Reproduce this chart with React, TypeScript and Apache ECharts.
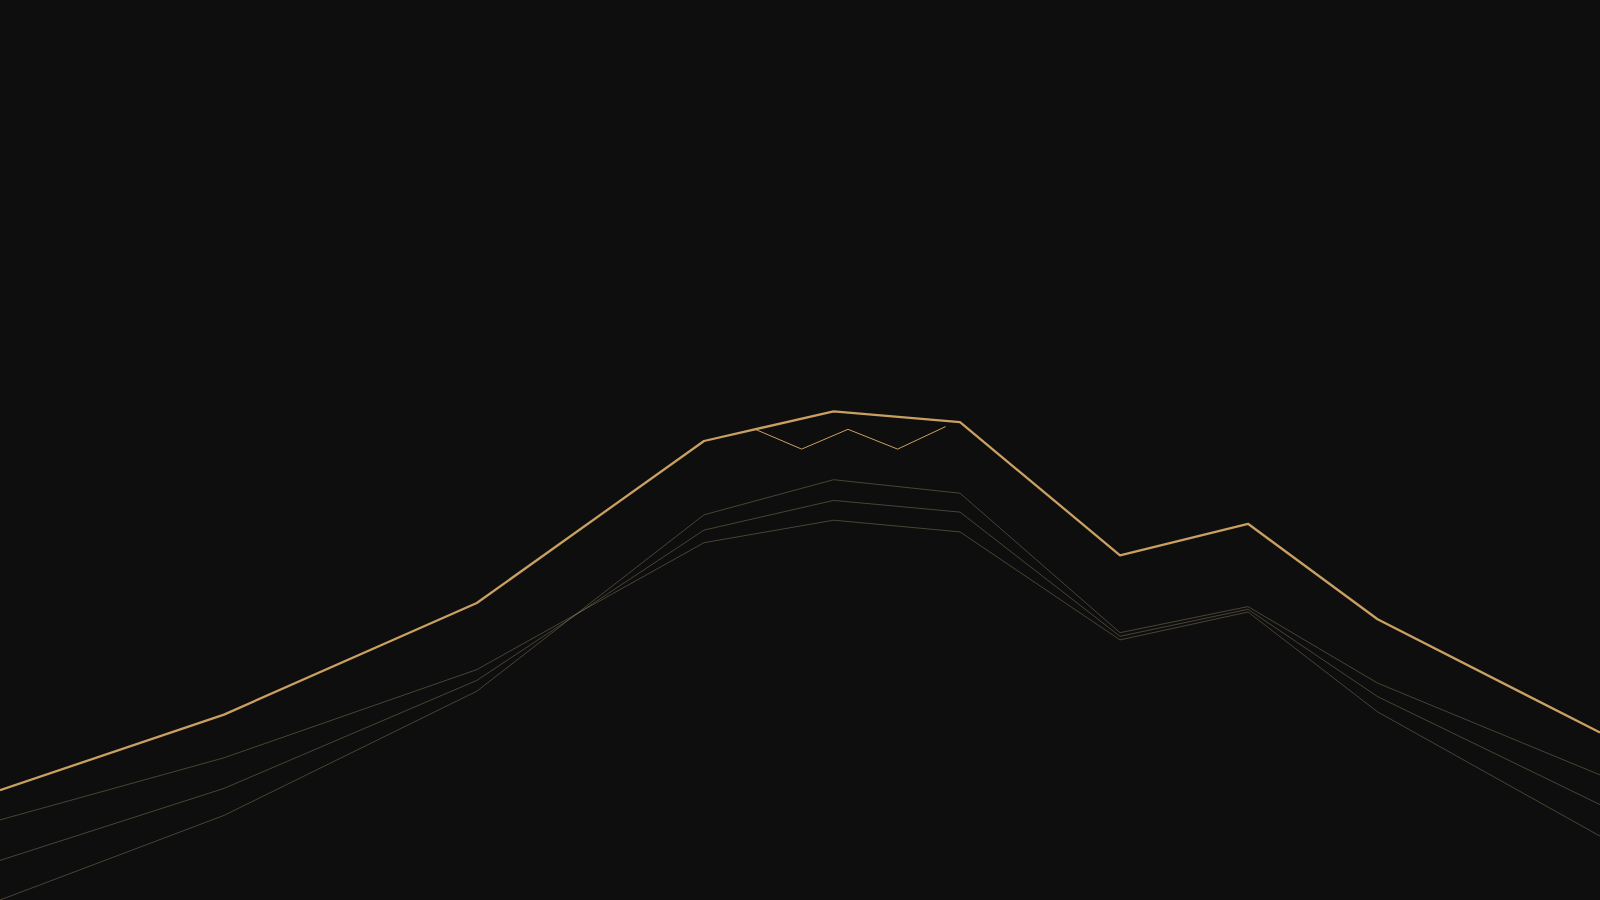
import React, { useEffect, useRef } from "react";
import * as echarts from "echarts";

// x positions (shared by the ridge lines)
const xs = [0, 14, 29.8, 44, 52.1, 60, 70, 78, 86.1, 100];
// main ridge line
const mainLine = [12.2, 20.6, 33.0, 51.0, 54.3, 53.1, 38.3, 41.8, 31.2, 18.6];
// faint echo lines
const echoA = [8.9, 15.8, 25.6, 39.7, 42.2, 40.9, 28.9, 32.0, 20.9, 7.1];
const echoB = [4.4, 12.4, 24.4, 41.1, 44.4, 43.1, 29.3, 32.3, 22.6, 10.6];
const echoC = [0, 9.4, 23.2, 42.8, 46.7, 45.2, 29.7, 32.6, 24.1, 13.9];
// small zigzag crown
const crownX = [47.2, 50.1, 53, 56.1, 59.1];
const crownY = [52.3, 50.1, 52.3, 50.1, 52.6];

const GOLD = "#C9A061";
const ECHO = "#A89A70";

function pairs(x: number[], y: number[]) {
  return x.map((v, i) => [v, y[i]]);
}

export default function App() {
  const ref = useRef<HTMLDivElement>(null);
  useEffect(() => {
    if (!ref.current) return;
    const chart = echarts.init(ref.current, undefined, { renderer: "svg" });
    const echo = (name: string, data: number[], op: number) => ({
      name,
      type: "line",
      data: pairs(xs, data),
      symbol: "none",
      lineStyle: { color: ECHO, width: 1, opacity: op },
      z: 1,
    });
    chart.setOption({
      animation: false,
      backgroundColor: "#0e0e0e",
      grid: { left: 0, right: 0, top: 0, bottom: 0 },
      xAxis: { type: "value", min: 0, max: 100, show: false },
      yAxis: { type: "value", min: 0, max: 100, show: false },
      series: [
        echo("echoA", echoA, 0.38),
        echo("echoB", echoB, 0.38),
        echo("echoC", echoC, 0.38),
        {
          name: "crown",
          type: "line",
          data: pairs(crownX, crownY),
          symbol: "none",
          lineStyle: { color: GOLD, width: 1 },
          z: 2,
        },
        {
          name: "main",
          type: "line",
          data: pairs(xs, mainLine),
          symbol: "none",
          lineStyle: { color: GOLD, width: 2.3 },
          z: 3,
        },
      ],
    });
    return () => chart.dispose();
  }, []);
  return (
    <div
      ref={ref}
      style={{ position: "fixed", left: 0, top: 0, width: 1600, height: 900 }}
    />
  );
}
